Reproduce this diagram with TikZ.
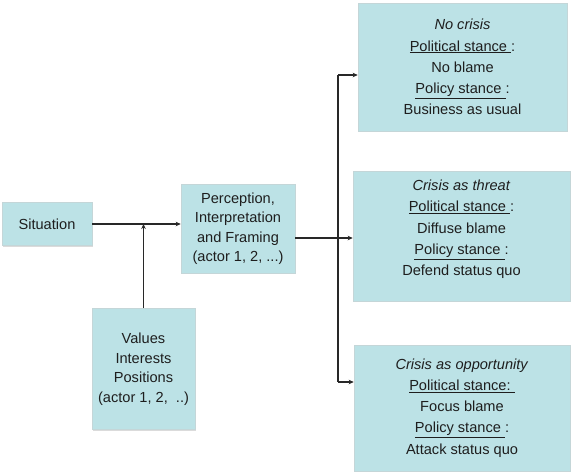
\documentclass[tikz,border=0pt]{standalone}
\usepackage{fontspec}
\setmainfont{Liberation Sans}
\usetikzlibrary{arrows.meta,shadows}
\definecolor{boxfill}{RGB}{188,226,230}
\definecolor{boxline}{RGB}{196,214,216}
\definecolor{linec}{RGB}{40,40,40}
\definecolor{txt}{RGB}{30,30,30}
\begin{document}
\begin{tikzpicture}[x=1pt,y=-1pt,
  box/.style={rectangle, fill=boxfill, draw=boxline, line width=0.6pt, align=center,
    text=txt, font=\fontsize{14.6}{19.5}\selectfont, inner sep=0pt,
    drop shadow={shadow xshift=1.2pt, shadow yshift=-1.2pt, fill=gray!35, opacity=0.8}},
  bigbox/.style={box, font=\fontsize{14.6}{21.2}\selectfont},
  conn/.style={draw=linec, line width=1.3pt},
  arr/.style={conn, -{Stealth[length=5pt,width=4.5pt]}}]
\useasboundingbox (0,0) rectangle (572,472);
\node[box, minimum width=90pt, minimum height=43pt] (sit) at (47,224) {Situation};
\node[box, minimum width=114pt, minimum height=89pt] (perc) at (238,228.5)
  {Perception,\\Interpretation\\and Framing\\(actor 1, 2, ...)};
\node[box, minimum width=103pt, minimum height=121pt] (val) at (143.5,369)
  {Values\\Interests\\Positions\\(actor 1, 2, \ ..)};
\node[bigbox, minimum width=209pt, minimum height=128pt] (nc) at (462.5,67)
  {\textit{No crisis}\\\underline{Political stance\ }:\\No blame\\\underline{Policy stance\ }:\\Business as usual};
\node[bigbox, minimum width=217pt, minimum height=130pt] (th) at (461.5,236)
  {\textit{Crisis as threat}\\\underline{Political stance\ }:\\Diffuse blame\\\underline{Policy stance\ }:\\Defend status quo\\[-5pt]\mbox{}};
\node[bigbox, minimum width=216pt, minimum height=126pt] (op) at (462,408)
  {\textit{Crisis as opportunity}\\\underline{Political stance:\ }\\Focus blame\\\underline{Policy stance\ }:\\Attack status quo};
\coordinate (b1) at (338,75);
\coordinate (b2) at (338,238);
\coordinate (b3) at (338,382);
\draw[arr] (sit.east) -- (perc.west |- sit.east);
\draw[arr] (val.north) -- (val.north |- sit.east);
\draw[conn] (perc.east |- b2) -- (b2);
\draw[conn] (b1) -- (b3);
\fill[linec] (b2) circle (1.6pt);
\draw[arr] (b1) -- (nc.west |- b1);
\draw[arr] (b2) -- (th.west |- b2);
\draw[arr] (b3) -- (op.west |- b3);
\end{tikzpicture}
\end{document}
